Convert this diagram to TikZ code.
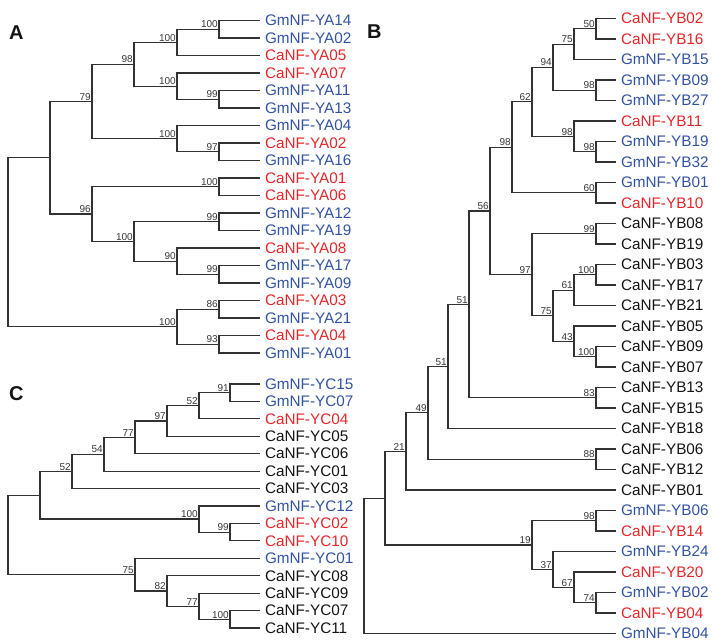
\documentclass[tikz,border=0pt]{standalone}
\usepackage{fontspec}
\setmainfont{Liberation Sans}
\definecolor{tblue}{RGB}{50,82,162}
\definecolor{tred}{RGB}{228,38,42}
\definecolor{tblack}{RGB}{20,20,20}
\definecolor{linegray}{RGB}{50,50,50}
\newcommand\leaffont{\fontsize{15.3}{16}\selectfont}
\newcommand\bsfont{\fontsize{10}{11}\selectfont}
\newcommand\panelfont{\fontsize{20}{21}\selectfont\bfseries}
\newcommand\rowA[1]{20.5+17.5*(#1)}
\newcommand\rowB[1]{18.5+20.5*(#1)}
\newcommand\rowC[1]{384+17.43*(#1)}
\tikzset{
  br/.style={line width=1.2pt, draw=linegray},
  leaf/.style={anchor=west, inner sep=0pt, outer xsep=5pt, font=\leaffont},
  lb/.style={leaf, text=tblue},
  lr/.style={leaf, text=tred},
  lk/.style={leaf, text=tblack},
  bs/.style={anchor=south east, inner sep=1pt, font=\bsfont, text=tblack!85},
  panel/.style={anchor=base west, inner sep=0pt, font=\panelfont, text=tblack},
}
\begin{document}
\begin{tikzpicture}[x=1pt,y=-1pt]
\useasboundingbox (0,0) rectangle (714,644);
% ---------------- panel labels
\node[panel] (pA) at (9,39.5) {A};
\node[panel] (pB) at (367,38.5) {B};
\node[panel] (pC) at (9,400) {C};

% ---------------- Panel A leaves
\node[lb] (aL0)  at (260,{\rowA{0}})  {GmNF-YA14};
\node[lb] (aL1)  at (260,{\rowA{1}})  {GmNF-YA02};
\node[lr] (aL2)  at (260,{\rowA{2}})  {CaNF-YA05};
\node[lr] (aL3)  at (260,{\rowA{3}})  {CaNF-YA07};
\node[lb] (aL4)  at (260,{\rowA{4}})  {GmNF-YA11};
\node[lb] (aL5)  at (260,{\rowA{5}})  {GmNF-YA13};
\node[lb] (aL6)  at (260,{\rowA{6}})  {GmNF-YA04};
\node[lr] (aL7)  at (260,{\rowA{7}})  {CaNF-YA02};
\node[lb] (aL8)  at (260,{\rowA{8}})  {GmNF-YA16};
\node[lr] (aL9)  at (260,{\rowA{9}})  {CaNF-YA01};
\node[lr] (aL10) at (260,{\rowA{10}}) {CaNF-YA06};
\node[lb] (aL11) at (260,{\rowA{11}}) {GmNF-YA12};
\node[lb] (aL12) at (260,{\rowA{12}}) {GmNF-YA19};
\node[lr] (aL13) at (260,{\rowA{13}}) {CaNF-YA08};
\node[lb] (aL14) at (260,{\rowA{14}}) {GmNF-YA17};
\node[lb] (aL15) at (260,{\rowA{15}}) {GmNF-YA09};
\node[lr] (aL16) at (260,{\rowA{16}}) {CaNF-YA03};
\node[lb] (aL17) at (260,{\rowA{17}}) {GmNF-YA21};
\node[lr] (aL18) at (260,{\rowA{18}}) {CaNF-YA04};
\node[lb] (aL19) at (260,{\rowA{19}}) {GmNF-YA01};

% Panel A internal nodes
\coordinate (a1)  at (219,{\rowA{0.5}});
\coordinate (a2)  at (177,{\rowA{1.25}});
\coordinate (a3)  at (219,{\rowA{4.5}});
\coordinate (a4)  at (177,{\rowA{3.75}});
\coordinate (a5)  at (134,{\rowA{2.5}});
\coordinate (a6)  at (219,{\rowA{7.5}});
\coordinate (a7)  at (177,{\rowA{6.75}});
\coordinate (a8)  at (92,{\rowA{4.625}});
\coordinate (a9)  at (219,{\rowA{9.5}});
\coordinate (a10) at (219,{\rowA{11.5}});
\coordinate (a11) at (219,{\rowA{14.5}});
\coordinate (a12) at (177,{\rowA{13.75}});
\coordinate (a13) at (134,{\rowA{12.625}});
\coordinate (a14) at (92,{\rowA{11.0625}});
\coordinate (a15) at (50,{\rowA{7.84375}});
\coordinate (a16) at (219,{\rowA{16.5}});
\coordinate (a17) at (219,{\rowA{18.5}});
\coordinate (a18) at (177,{\rowA{17.5}});
\coordinate (a19) at (8,{\rowA{12.671875}});

\draw[br] (aL0.west) -| (a1) |- (aL1.west);
\draw[br] (a1) -| (a2) |- (aL2.west);
\draw[br] (aL4.west) -| (a3) |- (aL5.west);
\draw[br] (aL3.west) -| (a4) |- (a3);
\draw[br] (a2) -| (a5) |- (a4);
\draw[br] (aL7.west) -| (a6) |- (aL8.west);
\draw[br] (aL6.west) -| (a7) |- (a6);
\draw[br] (a5) -| (a8) |- (a7);
\draw[br] (aL9.west) -| (a9) |- (aL10.west);
\draw[br] (aL11.west) -| (a10) |- (aL12.west);
\draw[br] (aL14.west) -| (a11) |- (aL15.west);
\draw[br] (aL13.west) -| (a12) |- (a11);
\draw[br] (a10) -| (a13) |- (a12);
\draw[br] (a9) -| (a14) |- (a13);
\draw[br] (a8) -| (a15) |- (a14);
\draw[br] (aL16.west) -| (a16) |- (aL17.west);
\draw[br] (aL18.west) -| (a17) |- (aL19.west);
\draw[br] (a16) -| (a18) |- (a17);
\draw[br] (a15) -| (a19) |- (a18);

\node[bs] (a1b)  at (a1)  {100};
\node[bs] (a2b)  at (a2)  {100};
\node[bs] (a3b)  at (a3)  {99};
\node[bs] (a4b)  at (a4)  {100};
\node[bs] (a5b)  at (a5)  {98};
\node[bs] (a6b)  at (a6)  {97};
\node[bs] (a7b)  at (a7)  {100};
\node[bs] (a8b)  at (a8)  {79};
\node[bs] (a9b)  at (a9)  {100};
\node[bs] (a10b) at (a10) {99};
\node[bs] (a11b) at (a11) {99};
\node[bs] (a12b) at (a12) {90};
\node[bs] (a13b) at (a13) {100};
\node[bs] (a14b) at (a14) {96};
\node[bs] (a16b) at (a16) {86};
\node[bs] (a17b) at (a17) {93};
\node[bs] (a18b) at (a18) {100};

% ---------------- Panel B leaves
\node[lr] (bL0)  at (616,{\rowB{0}})  {CaNF-YB02};
\node[lr] (bL1)  at (616,{\rowB{1}})  {CaNF-YB16};
\node[lb] (bL2)  at (616,{\rowB{2}})  {GmNF-YB15};
\node[lb] (bL3)  at (616,{\rowB{3}})  {GmNF-YB09};
\node[lb] (bL4)  at (616,{\rowB{4}})  {GmNF-YB27};
\node[lr] (bL5)  at (616,{\rowB{5}})  {CaNF-YB11};
\node[lb] (bL6)  at (616,{\rowB{6}})  {GmNF-YB19};
\node[lb] (bL7)  at (616,{\rowB{7}})  {GmNF-YB32};
\node[lb] (bL8)  at (616,{\rowB{8}})  {GmNF-YB01};
\node[lr] (bL9)  at (616,{\rowB{9}})  {CaNF-YB10};
\node[lk] (bL10) at (616,{\rowB{10}}) {CaNF-YB08};
\node[lk] (bL11) at (616,{\rowB{11}}) {CaNF-YB19};
\node[lk] (bL12) at (616,{\rowB{12}}) {CaNF-YB03};
\node[lk] (bL13) at (616,{\rowB{13}}) {CaNF-YB17};
\node[lk] (bL14) at (616,{\rowB{14}}) {CaNF-YB21};
\node[lk] (bL15) at (616,{\rowB{15}}) {CaNF-YB05};
\node[lk] (bL16) at (616,{\rowB{16}}) {CaNF-YB09};
\node[lk] (bL17) at (616,{\rowB{17}}) {CaNF-YB07};
\node[lk] (bL18) at (616,{\rowB{18}}) {CaNF-YB13};
\node[lk] (bL19) at (616,{\rowB{19}}) {CaNF-YB15};
\node[lk] (bL20) at (616,{\rowB{20}}) {CaNF-YB18};
\node[lk] (bL21) at (616,{\rowB{21}}) {CaNF-YB06};
\node[lk] (bL22) at (616,{\rowB{22}}) {CaNF-YB12};
\node[lk] (bL23) at (616,{\rowB{23}}) {CaNF-YB01};
\node[lb] (bL24) at (616,{\rowB{24}}) {GmNF-YB06};
\node[lr] (bL25) at (616,{\rowB{25}}) {CaNF-YB14};
\node[lb] (bL26) at (616,{\rowB{26}}) {GmNF-YB24};
\node[lr] (bL27) at (616,{\rowB{27}}) {CaNF-YB20};
\node[lb] (bL28) at (616,{\rowB{28}}) {GmNF-YB02};
\node[lr] (bL29) at (616,{\rowB{29}}) {CaNF-YB04};
\node[lb] (bL30) at (616,{\rowB{30}}) {GmNF-YB04};

% Panel B internal nodes
\coordinate (b1)  at (596,{\rowB{0.5}});
\coordinate (b2)  at (574,{\rowB{1.25}});
\coordinate (b3)  at (596,{\rowB{3.5}});
\coordinate (b4)  at (553,{\rowB{2.375}});
\coordinate (b5)  at (596,{\rowB{6.5}});
\coordinate (b6)  at (574,{\rowB{5.75}});
\coordinate (b7)  at (532,{\rowB{4.0625}});
\coordinate (b8)  at (596,{\rowB{8.5}});
\coordinate (b9)  at (512,{\rowB{6.28125}});
\coordinate (b10) at (596,{\rowB{10.5}});
\coordinate (b11) at (596,{\rowB{12.5}});
\coordinate (b12) at (574,{\rowB{13.25}});
\coordinate (b13) at (596,{\rowB{16.5}});
\coordinate (b14) at (574,{\rowB{15.75}});
\coordinate (b15) at (553,{\rowB{14.5}});
\coordinate (b16) at (532,{\rowB{12.5}});
\coordinate (b17) at (490,{\rowB{9.390625}});
\coordinate (b18) at (596,{\rowB{18.5}});
\coordinate (b19) at (469,{\rowB{13.9453125}});
\coordinate (b20) at (448,{\rowB{16.97265625}});
\coordinate (b21) at (596,{\rowB{21.5}});
\coordinate (b22) at (428,{\rowB{19.236328}});
\coordinate (b23) at (406,{\rowB{21.118164}});
\coordinate (b24) at (596,{\rowB{24.5}});
\coordinate (b25) at (596,{\rowB{28.5}});
\coordinate (b26) at (574,{\rowB{27.75}});
\coordinate (b27) at (553,{\rowB{26.875}});
\coordinate (b28) at (532,{\rowB{25.6875}});
\coordinate (b29) at (385,{\rowB{23.402832}});
\coordinate (b30) at (364,{\rowB{26.701416}});

\draw[br] (bL0.west) -| (b1) |- (bL1.west);
\draw[br] (b1) -| (b2) |- (bL2.west);
\draw[br] (bL3.west) -| (b3) |- (bL4.west);
\draw[br] (b2) -| (b4) |- (b3);
\draw[br] (bL6.west) -| (b5) |- (bL7.west);
\draw[br] (bL5.west) -| (b6) |- (b5);
\draw[br] (b4) -| (b7) |- (b6);
\draw[br] (bL8.west) -| (b8) |- (bL9.west);
\draw[br] (b7) -| (b9) |- (b8);
\draw[br] (bL10.west) -| (b10) |- (bL11.west);
\draw[br] (bL12.west) -| (b11) |- (bL13.west);
\draw[br] (b11) -| (b12) |- (bL14.west);
\draw[br] (bL16.west) -| (b13) |- (bL17.west);
\draw[br] (bL15.west) -| (b14) |- (b13);
\draw[br] (b12) -| (b15) |- (b14);
\draw[br] (b10) -| (b16) |- (b15);
\draw[br] (b9) -| (b17) |- (b16);
\draw[br] (bL18.west) -| (b18) |- (bL19.west);
\draw[br] (b17) -| (b19) |- (b18);
\draw[br] (b19) -| (b20) |- (bL20.west);
\draw[br] (bL21.west) -| (b21) |- (bL22.west);
\draw[br] (b20) -| (b22) |- (b21);
\draw[br] (b22) -| (b23) |- (bL23.west);
\draw[br] (bL24.west) -| (b24) |- (bL25.west);
\draw[br] (bL28.west) -| (b25) |- (bL29.west);
\draw[br] (bL27.west) -| (b26) |- (b25);
\draw[br] (bL26.west) -| (b27) |- (b26);
\draw[br] (b24) -| (b28) |- (b27);
\draw[br] (b23) -| (b29) |- (b28);
\draw[br] (b29) -| (b30) |- (bL30.west);

\node[bs] (b1b)  at (b1)  {50};
\node[bs] (b2b)  at (b2)  {75};
\node[bs] (b3b)  at (b3)  {98};
\node[bs] (b4b)  at (b4)  {94};
\node[bs] (b5b)  at (b5)  {98};
\node[bs] (b6b)  at (b6)  {98};
\node[bs] (b7b)  at (b7)  {62};
\node[bs] (b8b)  at (b8)  {60};
\node[bs] (b9b)  at (b9)  {98};
\node[bs] (b10b) at (b10) {99};
\node[bs] (b11b) at (b11) {100};
\node[bs] (b12b) at (b12) {61};
\node[bs] (b13b) at (b13) {100};
\node[bs] (b14b) at (b14) {43};
\node[bs] (b15b) at (b15) {75};
\node[bs] (b16b) at (b16) {97};
\node[bs] (b17b) at (b17) {56};
\node[bs] (b18b) at (b18) {83};
\node[bs] (b19b) at (b19) {51};
\node[bs] (b20b) at (b20) {51};
\node[bs] (b21b) at (b21) {88};
\node[bs] (b22b) at (b22) {49};
\node[bs] (b23b) at (b23) {21};
\node[bs] (b24b) at (b24) {98};
\node[bs] (b25b) at (b25) {74};
\node[bs] (b26b) at (b26) {67};
\node[bs] (b27b) at (b27) {37};
\node[bs] (b28b) at (b28) {19};

% ---------------- Panel C leaves
\node[lb] (cL0)  at (260,{\rowC{0}})  {GmNF-YC15};
\node[lb] (cL1)  at (260,{\rowC{1}})  {GmNF-YC07};
\node[lr] (cL2)  at (260,{\rowC{2}})  {CaNF-YC04};
\node[lk] (cL3)  at (260,{\rowC{3}})  {CaNF-YC05};
\node[lk] (cL4)  at (260,{\rowC{4}})  {CaNF-YC06};
\node[lk] (cL5)  at (260,{\rowC{5}})  {CaNF-YC01};
\node[lk] (cL6)  at (260,{\rowC{6}})  {CaNF-YC03};
\node[lb] (cL7)  at (260,{\rowC{7}})  {GmNF-YC12};
\node[lr] (cL8)  at (260,{\rowC{8}})  {CaNF-YC02};
\node[lr] (cL9)  at (260,{\rowC{9}})  {CaNF-YC10};
\node[lb] (cL10) at (260,{\rowC{10}}) {GmNF-YC01};
\node[lk] (cL11) at (260,{\rowC{11}}) {CaNF-YC08};
\node[lk] (cL12) at (260,{\rowC{12}}) {CaNF-YC09};
\node[lk] (cL13) at (260,{\rowC{13}}) {CaNF-YC07};
\node[lk] (cL14) at (260,{\rowC{14}}) {CaNF-YC11};

% Panel C internal nodes
\coordinate (c1)  at (230,{\rowC{0.5}});
\coordinate (c2)  at (199,{\rowC{1.25}});
\coordinate (c3)  at (167,{\rowC{2.125}});
\coordinate (c4)  at (135,{\rowC{3.0625}});
\coordinate (c5)  at (104,{\rowC{4.03125}});
\coordinate (c6)  at (72,{\rowC{5.015625}});
\coordinate (c7)  at (230,{\rowC{8.5}});
\coordinate (c8)  at (199,{\rowC{7.75}});
\coordinate (c9)  at (40,{\rowC{6.3828125}});
\coordinate (c10) at (230,{\rowC{13.5}});
\coordinate (c11) at (199,{\rowC{12.75}});
\coordinate (c12) at (167,{\rowC{11.875}});
\coordinate (c13) at (135,{\rowC{10.9375}});
\coordinate (c14) at (8,{\rowC{8.66015625}});

\draw[br] (cL0.west) -| (c1) |- (cL1.west);
\draw[br] (c1) -| (c2) |- (cL2.west);
\draw[br] (c2) -| (c3) |- (cL3.west);
\draw[br] (c3) -| (c4) |- (cL4.west);
\draw[br] (c4) -| (c5) |- (cL5.west);
\draw[br] (c5) -| (c6) |- (cL6.west);
\draw[br] (cL8.west) -| (c7) |- (cL9.west);
\draw[br] (cL7.west) -| (c8) |- (c7);
\draw[br] (c6) -| (c9) |- (c8);
\draw[br] (cL13.west) -| (c10) |- (cL14.west);
\draw[br] (cL12.west) -| (c11) |- (c10);
\draw[br] (cL11.west) -| (c12) |- (c11);
\draw[br] (cL10.west) -| (c13) |- (c12);
\draw[br] (c9) -| (c14) |- (c13);

\node[bs] (c1b)  at (c1)  {91};
\node[bs] (c2b)  at (c2)  {52};
\node[bs] (c3b)  at (c3)  {97};
\node[bs] (c4b)  at (c4)  {77};
\node[bs] (c5b)  at (c5)  {54};
\node[bs] (c6b)  at (c6)  {52};
\node[bs] (c7b)  at (c7)  {99};
\node[bs] (c8b)  at (c8)  {100};
\node[bs] (c10b) at (c10) {100};
\node[bs] (c11b) at (c11) {77};
\node[bs] (c12b) at (c12) {82};
\node[bs] (c13b) at (c13) {75};
\end{tikzpicture}
\end{document}
